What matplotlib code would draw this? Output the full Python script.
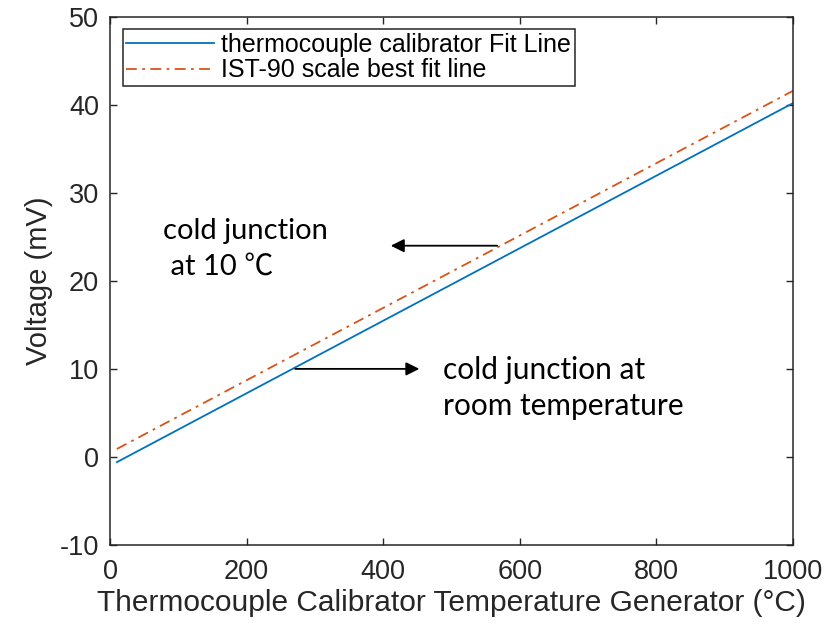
import matplotlib
matplotlib.use("Agg")
import matplotlib.pyplot as plt

# fit lines (end points)
temp = [10, 1000]
tc_fit = [-0.6, 40.2]
its90_fit = [0.9, 41.6]

x_ticks = [0, 200, 400, 600, 800, 1000]
y_ticks = [-10, 0, 10, 20, 30, 40, 50]

plt.rcParams["font.family"] = ["Liberation Sans", "DejaVu Sans"]
plt.rcParams["axes.unicode_minus"] = False
AX_COL = "#262626"

fig = plt.figure(figsize=(8.4, 6.27), dpi=100)
ax = fig.add_axes([0.131, 0.131, 0.813, 0.842])

ax.plot(temp, tc_fit, color="#0072BD", lw=1.3, label="thermocouple calibrator Fit Line")
ax.plot(temp, its90_fit, color="#D95319", lw=1.3, linestyle=(0, (6, 3, 1.5, 3)),
        label="IST-90 scale best fit line")

ax.set_xlim(0, 1000)
ax.set_ylim(-10, 50)
ax.set_xticks(x_ticks)
ax.set_yticks(y_ticks)
ax.tick_params(direction="in", top=True, right=True, length=5, width=1.0,
               labelsize=19.5, colors=AX_COL)
ax.tick_params(axis="x", pad=10)
ax.tick_params(axis="y", pad=8)
for s in ax.spines.values():
    s.set_color(AX_COL)
    s.set_linewidth(1.1)

ax.set_xlabel("Thermocouple Calibrator Temperature Generator (°C)", fontsize=21.5, color=AX_COL, labelpad=3)
ax.set_ylabel("Voltage (mV)", fontsize=21, color=AX_COL, labelpad=5)

leg = ax.legend(loc="upper left", fontsize=18, fancybox=False, framealpha=1,
                edgecolor=AX_COL, borderpad=0.15, handlelength=3.5, handletextpad=0.3,
                labelspacing=0.05, borderaxespad=0.5)
leg.get_frame().set_linewidth(1.1)

ann_font = ["Lato", "Noto Sans CJK SC", "DejaVu Sans"]
ax.annotate("", xy=(407, 24.0), xytext=(571, 24.0),
            arrowprops=dict(arrowstyle="-|>", color="black", lw=1.3, mutation_scale=20))
ax.text(77, 23.6, "cold junction\n at 10 ℃", fontsize=21, family=ann_font,
        ha="left", va="center", linespacing=1.45)

ax.annotate("", xy=(457, 10.0), xytext=(267, 10.0),
            arrowprops=dict(arrowstyle="-|>", color="black", lw=1.3, mutation_scale=20))
ax.text(487, 7.8, "cold junction at\nroom temperature", fontsize=21.5, family=ann_font,
        ha="left", va="center", linespacing=1.35)

fig.savefig("out.png", dpi=100)
